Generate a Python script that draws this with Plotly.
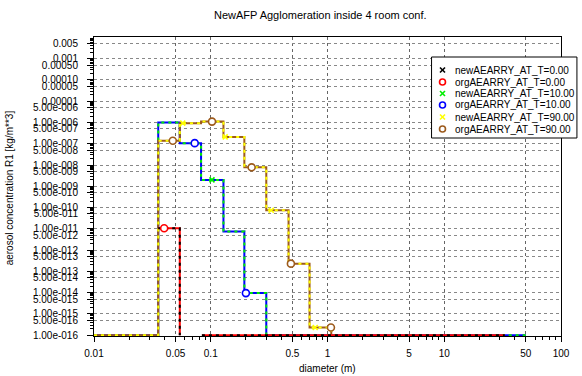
import plotly.graph_objects as go

# ---------------- data ----------------
# step-function bin edges (diameter, m)
bin_edges = [0.0355, 0.0543, 0.0826, 0.1285, 0.194, 0.299, 0.464, 0.702, 1.077]
d_min = 0.01            # start of grid
t0_floor_start = 0.084  # where T=0 series reappears at axis floor
t0_floor_end = 33.0
t10_floor_end = 50.0
floor_val = 1e-16

# concentration per bin [kg/m**3] (0 = below axis floor)
org_t0 = [1.07e-11, 0, 0, 0, 0, 0, 0, 0]
org_t10 = [1.0e-6, 1.07e-7, 2.0e-9, 7.5e-12, 9.5e-15, 0, 0, 0]
org_t90 = [1.38e-7, 9.3e-7, 1.1e-6, 2.1e-7, 7.8e-9, 7.5e-11, 2.3e-13, 2.3e-16]
new_t0 = [1.07e-11, 0, 0, 0, 0, 0, 0, 0]
new_t10 = [1.0e-6, 1.07e-7, 2.0e-9, 7.5e-12, 9.5e-15, 0, 0, 0]
new_t90 = [1.38e-7, 9.3e-7, 1.1e-6, 2.1e-7, 7.8e-9, 7.5e-11, 2.3e-13, 2.3e-16]

# diameters where symbols are drawn
org_t0_mark = [0.0399]
org_t10_mark = [0.0729, 0.2]
org_t90_mark = [0.0473, 0.1025, 0.224, 0.486, 1.07]
new_t0_mark = []
new_t10_mark = [0.1025]
new_t90_mark = [0.0576, 0.133, 0.33, 0.785]

series_names = ["newAEARRY_AT_T=0.00", "orgAEARRY_AT_T=0.00",
                "newAEARRY_AT_T=10.00", "orgAEARRY_AT_T=10.00",
                "newAEARRY_AT_T=90.00", "orgAEARRY_AT_T=90.00"]
series_colors = ["#000000", "#ff0000", "#00ee00", "#0000ff", "#ffff00", "#9c5a1c"]
series_symbols = ["x", "o", "x", "o", "x", "o"]

x_tick_vals = [0.01, 0.05, 0.1, 0.5, 1, 5, 10, 50, 100]
x_tick_text = ["0.01", "0.05", "0.1", "0.5", "1", "5", "10", "50", "100"]
y_tick_text = ["0.005", "0.001", "0.00050", "0.00010", "0.00005", "0.00001",
               "5.00e-006", "1.00e-006", "5.00e-007", "1.00e-007", "5.00e-008",
               "1.00e-008", "5.00e-009", "1.00e-009", "5.00e-010", "1.00e-010",
               "5.00e-011", "1.00e-011", "5.00e-012", "1.00e-012", "5.00e-013",
               "1.00e-013", "5.00e-014", "1.00e-014", "5.00e-015", "1.00e-015",
               "5.00e-016", "1.00e-016"]
y_tick_vals = [float(t) for t in y_tick_text]


def minor_vals(e0, e1):
    out = []
    for e in range(e0, e1):
        for m in range(2, 10):
            out.append(m * 10.0 ** e)
    return out


x_minor_vals = minor_vals(-2, 2)
y_minor_vals = minor_vals(-16, -1)


def fl(v):
    return v if v > 0 else floor_val


def lookup(conc, d):
    for i in range(len(bin_edges) - 1):
        if bin_edges[i] <= d < bin_edges[i + 1]:
            return fl(conc[i])
    return floor_val


def step_t10(conc):
    x = [d_min] + bin_edges + [t10_floor_end]
    y = [floor_val] + [fl(v) for v in conc] + [floor_val, floor_val]
    return x, y


def step_t90(conc):
    x = [d_min] + bin_edges
    y = [floor_val] + [fl(v) for v in conc] + [floor_val]
    return x, y


def step_t0(conc):
    x = [bin_edges[0], bin_edges[1], bin_edges[1], t0_floor_start, t0_floor_end]
    y = [fl(conc[0]), fl(conc[1]), None, floor_val, floor_val]
    return x, y


fig = go.Figure()

line_specs = [
    (step_t10(org_t10), series_colors[3], "solid"),
    (step_t10(new_t10), series_colors[2], "dash"),
    (step_t90(org_t90), series_colors[5], "solid"),
    (step_t90(new_t90), series_colors[4], "dash"),
    (step_t0(org_t0), series_colors[1], "solid"),
    (step_t0(new_t0), series_colors[0], "dash"),
]
for (xs, ys), col, dash in line_specs:
    fig.add_trace(go.Scatter(x=xs, y=ys, mode="lines", line_shape="hv",
                             line=dict(color=col, width=2, dash="3px,4px" if dash == "dash" else "solid"),
                             showlegend=False, hoverinfo="skip", connectgaps=False))

mark_specs = [
    (org_t10_mark, org_t10, series_colors[3], "o"),
    (org_t90_mark, org_t90, series_colors[5], "o"),
    (org_t0_mark, org_t0, series_colors[1], "o"),
    (new_t10_mark, new_t10, series_colors[2], "x"),
    (new_t90_mark, new_t90, series_colors[4], "x"),
    (new_t0_mark, new_t0, series_colors[0], "x"),
]
for ds, conc, col, sym in mark_specs:
    if not ds:
        continue
    if sym == "o":
        mk = dict(symbol="circle", size=7, color="white", line=dict(color=col, width=1.6))
    else:
        mk = dict(symbol="x-thin-open", size=5, color=col, line=dict(color=col, width=1.6))
    fig.add_trace(go.Scatter(x=ds, y=[lookup(conc, d) for d in ds], mode="markers",
                             marker=mk, showlegend=False, hoverinfo="skip"))

# ---------------- layout ----------------
L, R, T, B = 94, 19, 37, 40
W, H = 582, 376
PW, PH = W - L - R, H - T - B


def px_x(p):
    return (p - L) / PW


def px_y(p):
    return (H - B - p) / PH


font_family = "Liberation Sans, Arial, sans-serif"

fig.update_layout(
    width=W, height=H,
    margin=dict(l=L, r=R, t=T, b=B, pad=0),
    paper_bgcolor="white", plot_bgcolor="white",
    font=dict(family=font_family, size=10, color="black"),
    showlegend=False,
)
fig.update_xaxes(
    type="log", range=[-2, 2],
    tickmode="array", tickvals=x_tick_vals, ticktext=x_tick_text,
    ticks="outside", ticklen=5, tickwidth=1, tickcolor="black",
    ticklabelstandoff=3,
    showline=True, linecolor="black", linewidth=1, mirror=True,
    showgrid=True, gridcolor="#666666", griddash="dot", gridwidth=1,
    minor=dict(tickmode="array", tickvals=x_minor_vals, ticks="outside", ticklen=3,
               tickcolor="black", tickwidth=1, showgrid=False),
    zeroline=False, layer="below traces",
    tickfont=dict(family=font_family, size=10, color="black"),
)
fig.update_yaxes(
    type="log", range=[-16.04, -1.979],
    tickmode="array", tickvals=y_tick_vals, ticktext=y_tick_text,
    ticks="outside", ticklen=6, tickwidth=1, tickcolor="black",
    ticklabelstandoff=7,
    showline=True, linecolor="black", linewidth=1, mirror=True,
    showgrid=True, gridcolor="#888888", griddash="dot", gridwidth=1,
    minor=dict(tickmode="array", tickvals=y_minor_vals, ticks="outside", ticklen=3,
               tickcolor="black", tickwidth=1, showgrid=False),
    zeroline=False, layer="below traces",
    tickfont=dict(family=font_family, size=10, color="black"),
)

annotations = [
    dict(text="NewAFP Agglomeration inside 4 room conf.", x=px_x(321), y=px_y(15),
         xref="paper", yref="paper", showarrow=False, xanchor="center", yanchor="middle",
         font=dict(family=font_family, size=11, color="black")),
    dict(text="diameter (m)", x=px_x(328), y=px_y(368),
         xref="paper", yref="paper", showarrow=False, xanchor="center", yanchor="middle",
         font=dict(family=font_family, size=10, color="black")),
    dict(text="aerosol concentration R1 [kg/m**3]", x=px_x(9), y=px_y(188),
         xref="paper", yref="paper", showarrow=False, xanchor="center", yanchor="middle",
         textangle=-90, font=dict(family=font_family, size=10, color="black")),
]

# manual legend box
shapes = [dict(type="rect", xref="paper", yref="paper",
               x0=px_x(433), x1=px_x(579), y0=px_y(138), y1=px_y(57),
               fillcolor="white", line=dict(color="black", width=1), layer="above")]
row_y = [70, 82, 93.5, 105, 117, 129]
sym_x = 444
for name, col, sym, ry in zip(series_names, series_colors, series_symbols, row_y):
    if sym == "o":
        r = 3
        shapes.append(dict(type="circle", xref="paper", yref="paper",
                           x0=px_x(sym_x - r), x1=px_x(sym_x + r),
                           y0=px_y(ry + r), y1=px_y(ry - r),
                           line=dict(color=col, width=1.6), fillcolor="rgba(0,0,0,0)", layer="above"))
    else:
        r = 2.5
        for dy in (-1, 1):
            shapes.append(dict(type="line", xref="paper", yref="paper",
                               x0=px_x(sym_x - r), x1=px_x(sym_x + r),
                               y0=px_y(ry - dy * r), y1=px_y(ry + dy * r),
                               line=dict(color=col, width=1.6), layer="above"))
    annotations.append(dict(text=name, x=px_x(455), y=px_y(ry), xref="paper", yref="paper",
                            showarrow=False, xanchor="left", yanchor="middle",
                            font=dict(family=font_family, size=10, color="black")))

fig.update_layout(shapes=shapes, annotations=annotations)
fig.write_html("out.html")
